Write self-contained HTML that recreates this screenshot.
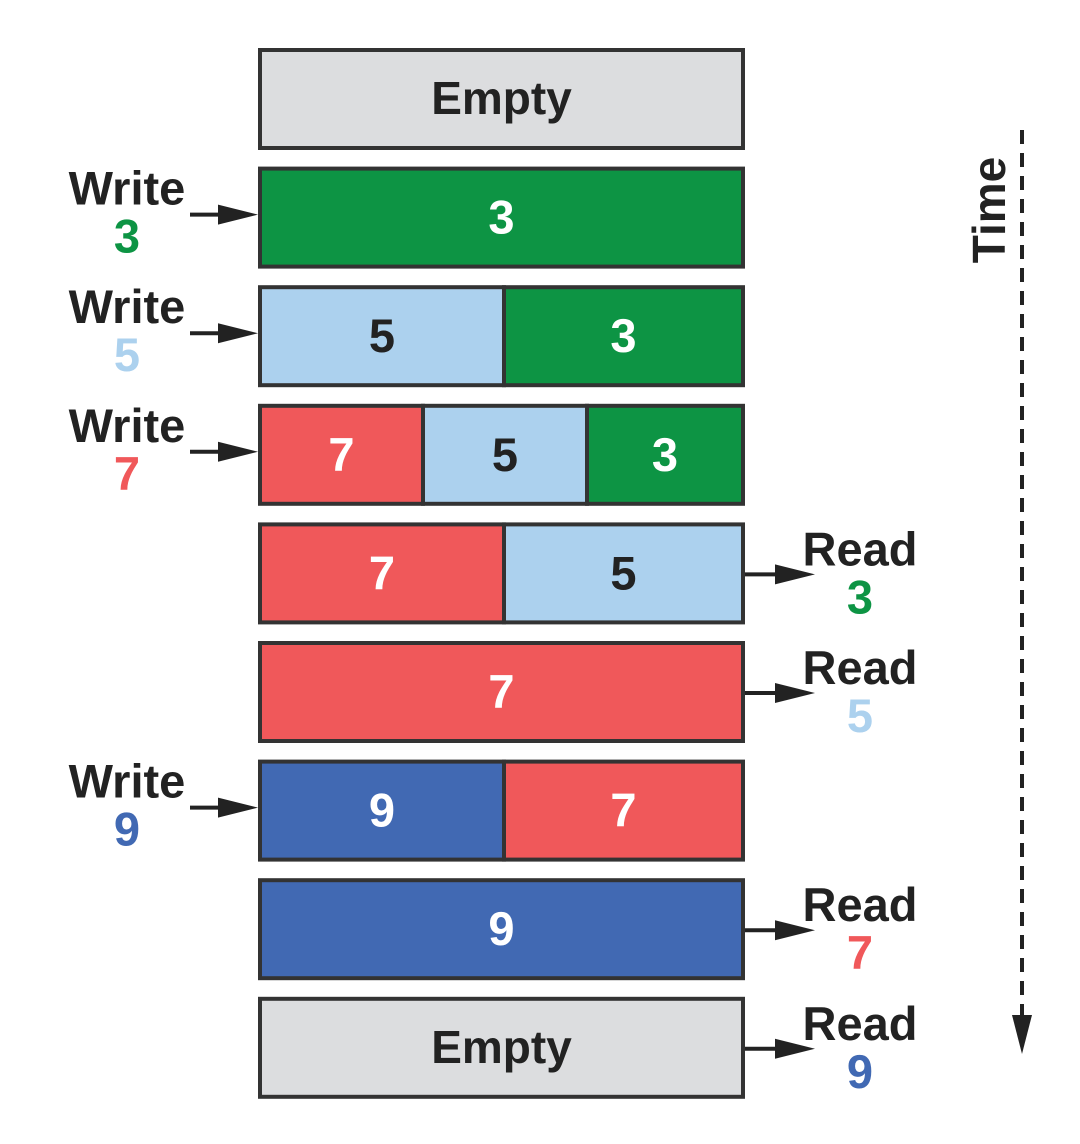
<!DOCTYPE html>
<html><head><meta charset="utf-8">
<style>
html,body{margin:0;padding:0;background:#fff;}
svg{display:block;font-family:"Liberation Sans","DejaVu Sans",sans-serif;font-weight:bold;}
</style></head>
<body>
<svg id="chart" width="1080" height="1144" viewBox="0 0 1080 1144" xmlns="http://www.w3.org/2000/svg">
<g id="rows"></g>
<g id="time">
<line x1="1022" y1="130" x2="1022" y2="1025" stroke="#222" stroke-width="4" stroke-dasharray="14,9"/>
<polygon points="1012,1015 1032,1015 1022,1054" fill="#222"/>
<text x="0" y="0" transform="translate(1005,210) rotate(-90)" text-anchor="middle" font-size="46" fill="#222">Time</text>
</g>
</svg>
<script>
// Queue states: each row lists segment values (left to right)
const rowValues = [[], [3], [5,3], [7,5,3], [7,5], [7], [9,7], [9], []];
const ops = ["", "Write", "Write", "Write", "Read", "Read", "Write", "Read", "Read"];
const opValues = [null, 3, 5, 7, 3, 5, 9, 7, 9];
const colors = {3:"#0d9444", 5:"#acd1ee", 7:"#f0585a", 9:"#4169b3"};
const textColors = {3:"#fff", 5:"#222", 7:"#fff", 9:"#fff"};
const numColors = {3:"#0d9444", 5:"#acd1ee", 7:"#f0585a", 9:"#4169b3"};

const NS = "http://www.w3.org/2000/svg";
const g = document.getElementById("rows");
const X0 = 260, X1 = 743, TOP = 50, STEP = 118.6, H = 98;
function mk(tag, attrs){const e=document.createElementNS(NS,tag);for(const k in attrs)e.setAttribute(k,attrs[k]);return e;}
function arrow(x1,x2,y){
  const l=mk("line",{x1:x1,y1:y,x2:x2-30,y2:y,stroke:"#222","stroke-width":4});
  
  
  g.appendChild(l);
  const p=mk("polygon",{points:`${x2-40},${y-10} ${x2},${y} ${x2-40},${y+10}`,fill:"#222"});
  
  
  g.appendChild(p);
}
rowValues.forEach((vals,i)=>{
  const y = TOP + i*STEP;
  const cy = y + H/2;
  const w = X1 - X0;
  if(vals.length===0){
    const r=mk("rect",{x:X0,y:y,width:w,height:H,fill:"#dcdddf",stroke:"#333","stroke-width":4});
    
    
    g.appendChild(r);
    const t=mk("text",{x:(X0+X1)/2,y:cy+15,"text-anchor":"middle","font-size":46,fill:"#222"});
    t.textContent="Empty";
    
    
    g.appendChild(t);
  } else {
    const n = vals.length;
    const edges = n===3 ? [X0, 423, 587, X1] : Array.from({length:n+1},(_,k)=>k===0?X0:(k===n?X1:504));
    vals.forEach((v,j)=>{
      const sx = edges[j], sw = edges[j+1]-edges[j];
      const r=mk("rect",{x:sx,y:y,width:sw,height:H,fill:colors[v],stroke:"#333","stroke-width":4});
      
      
      g.appendChild(r);
      const t=mk("text",{x:sx+sw/2,y:cy+16,"text-anchor":"middle","font-size":47,fill:textColors[v]});
      t.textContent=v;
      
      
      g.appendChild(t);
    });
  }
  const op = ops[i];
  if(op==="Write"){
    const t=mk("text",{x:127,y:y+36,"text-anchor":"middle","font-size":47,fill:"#222"});
    t.textContent="Write";
    
    
    g.appendChild(t);
    const n=mk("text",{x:127,y:y+84,"text-anchor":"middle","font-size":47,fill:numColors[opValues[i]]});
    n.textContent=opValues[i];
    
    
    g.appendChild(n);
    arrow(190,258,cy-3);
  } else if(op==="Read"){
    const t=mk("text",{x:860,y:y+41,"text-anchor":"middle","font-size":47,fill:"#222"});
    t.textContent="Read";
    
    
    g.appendChild(t);
    const n=mk("text",{x:860,y:y+89,"text-anchor":"middle","font-size":47,fill:numColors[opValues[i]]});
    n.textContent=opValues[i];
    
    
    g.appendChild(n);
    arrow(745,815,cy+1);
  }
});
</script>
</body></html>
